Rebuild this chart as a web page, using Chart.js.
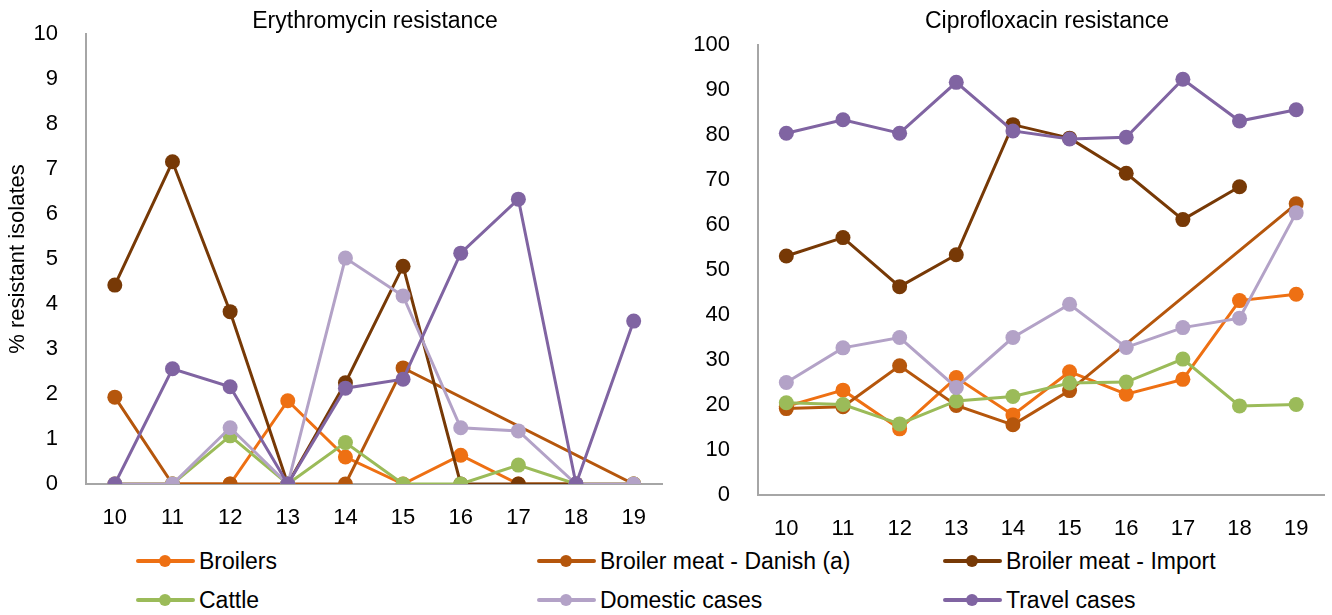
<!DOCTYPE html>
<html>
<head>
<meta charset="utf-8">
<script src="https://cdn.jsdelivr.net/npm/chart.js@4/dist/chart.umd.min.js"></script>
<style>
  body { margin: 0; background: #fff; font-family: "Liberation Sans", Arial, sans-serif; }
  #wrap { position: relative; width: 1332px; height: 615px; }
  #left { position: absolute; left: 0; top: 0; }
  #right { position: absolute; left: 670px; top: 0; }
  .ttl { position: absolute; top: 6px; width: 400px; margin-left: -200px; text-align: center; font-size: 23px; line-height: 28px; color: #000; }
  .leg { position: absolute; font-size: 23px; color: #000; line-height: 26px; white-space: nowrap; padding-left: 63px; }
  .leg .sym { position: absolute; left: 0; top: 11px; height: 4px; width: 59px; border-radius: 2px; }
  .leg .dot { position: absolute; left: 23px; top: -4px; width: 12px; height: 12px; border-radius: 50%; }
</style>
</head>
<body>
<div id="wrap">
  <canvas id="left" width="670" height="530"></canvas>
  <canvas id="right" width="662" height="540"></canvas>
  <div class="ttl" style="left:375px">Erythromycin resistance</div>
  <div class="ttl" style="left:1047px">Ciprofloxacin resistance</div>
  <div id="legend"></div>
</div>
<script>
var years = ['10', '11', '12', '13', '14', '15', '16', '17', '18', '19'];
var seriesNames = ['Broilers', 'Broiler meat - Danish (a)', 'Broiler meat - Import', 'Cattle', 'Domestic cases', 'Travel cases'];
var seriesColors = ['#EE7013', '#B5560C', '#773906', '#9BBB59', '#B3A2C7', '#8064A2'];

// Erythromycin resistance (%)
var eryBroilers = [0, 0, 0, 1.85, 0.6, 0, 0.64, 0, 0, 0];
var eryDanish   = [1.93, 0, 0, 0, 0, 2.58, null, null, null, 0];
var eryImport   = [4.42, 7.16, 3.83, 0, 2.25, 4.84, 0, 0, 0, null];
var eryCattle   = [0, 0, 1.07, 0, 0.92, 0, 0, 0.42, 0, 0];
var eryDomestic = [0, 0, 1.25, 0, 5.02, 4.18, 1.25, 1.18, 0, 0];
var eryTravel   = [0, 2.56, 2.16, 0, 2.13, 2.33, 5.13, 6.33, 0, 3.62];

// Ciprofloxacin resistance (%)
var ciproBroilers = [19.7, 23.3, 14.7, 26.1, 17.8, 27.4, 22.4, 25.7, 43.2, 44.6];
var ciproDanish   = [19.2, 19.6, 28.7, 19.9, 15.6, 23.2, null, null, null, 64.7];
var ciproImport   = [53.1, 57.2, 46.3, 53.4, 82.3, 79.3, 71.5, 61.2, 68.5, null];
var ciproCattle   = [20.5, 20.1, 15.8, 20.9, 21.9, 24.9, 25.1, 30.2, 19.8, 20.1];
var ciproDomestic = [25.0, 32.7, 35.0, 23.9, 35.0, 42.4, 32.8, 37.2, 39.3, 62.7];
var ciproTravel   = [80.4, 83.4, 80.4, 91.7, 80.9, 79.1, 79.5, 92.4, 83.1, 85.6];

var FONT = "'Liberation Sans', Arial, sans-serif";

function makeSets(lists) {
  var out = [];
  for (var i = 0; i < lists.length; i++) {
    out.push({
      label: seriesNames[i],
      data: lists[i],
      borderColor: seriesColors[i],
      backgroundColor: seriesColors[i],
      borderWidth: 3,
      pointRadius: 7.5,
      pointHoverRadius: 7.5,
      pointBorderWidth: 0,
      tension: 0,
      spanGaps: true,
      order: lists.length - i   // later series drawn on top, like the original
    });
  }
  return out;
}

function makeChart(id, lists, maxY, step, opt) {
  var ctx = document.getElementById(id).getContext('2d');
  return new Chart(ctx, {
    type: 'line',
    data: { labels: years, datasets: makeSets(lists) },
    options: {
      responsive: false,
      animation: false,
      layout: { padding: { right: opt.padRight, left: 0, top: opt.padTop, bottom: 0 } },
      plugins: {
        legend: { display: false },
        tooltip: { enabled: false }
      },
      scales: {
        x: {
          offset: true,
          grid: { display: false },
          border: { display: true, color: '#A6A6A6', width: 2 },
          ticks: { color: '#000', font: { family: FONT, size: 22 }, padding: 13, maxRotation: 0 },
          afterFit: function(s) { s.height = opt.xHeight; }
        },
        y: {
          min: 0,
          max: maxY,
          grid: { display: false },
          border: { display: true, color: '#A6A6A6', width: 2 },
          ticks: { stepSize: step, color: '#000', font: { family: FONT, size: 22 }, padding: 20 },
          title: {
            display: opt.yTitle !== '',
            text: opt.yTitle,
            color: '#000',
            font: { family: FONT, size: 22 },
            padding: { top: 5, bottom: 0 }
          },
          afterFit: function(s) { s.width = opt.yWidth; }
        }
      }
    }
  });
}

makeChart('left', [eryBroilers, eryDanish, eryImport, eryCattle, eryDomestic, eryTravel], 10, 1,
  { padRight: 4, padTop: 34, xHeight: 46, yWidth: 86, yTitle: '% resistant isolates' });

makeChart('right', [ciproBroilers, ciproDanish, ciproImport, ciproCattle, ciproDomestic, ciproTravel], 100, 10,
  { padRight: 2, padTop: 45, xHeight: 45, yWidth: 88, yTitle: '' });

// legend: 3 columns, 2 rows
var legCols = [136, 537, 943];
var legRows = [548, 587];
var legend = document.getElementById('legend');
for (var i = 0; i < seriesNames.length; i++) {
  var d = document.createElement('div');
  d.className = 'leg';
  d.style.left = legCols[i % 3] + 'px';
  d.style.top = legRows[Math.floor(i / 3)] + 'px';
  d.innerHTML = '<span class="sym" style="background:' + seriesColors[i] + '"><span class="dot" style="background:' + seriesColors[i] + '"></span></span>' + seriesNames[i];
  legend.appendChild(d);
}
</script>
</body>
</html>
